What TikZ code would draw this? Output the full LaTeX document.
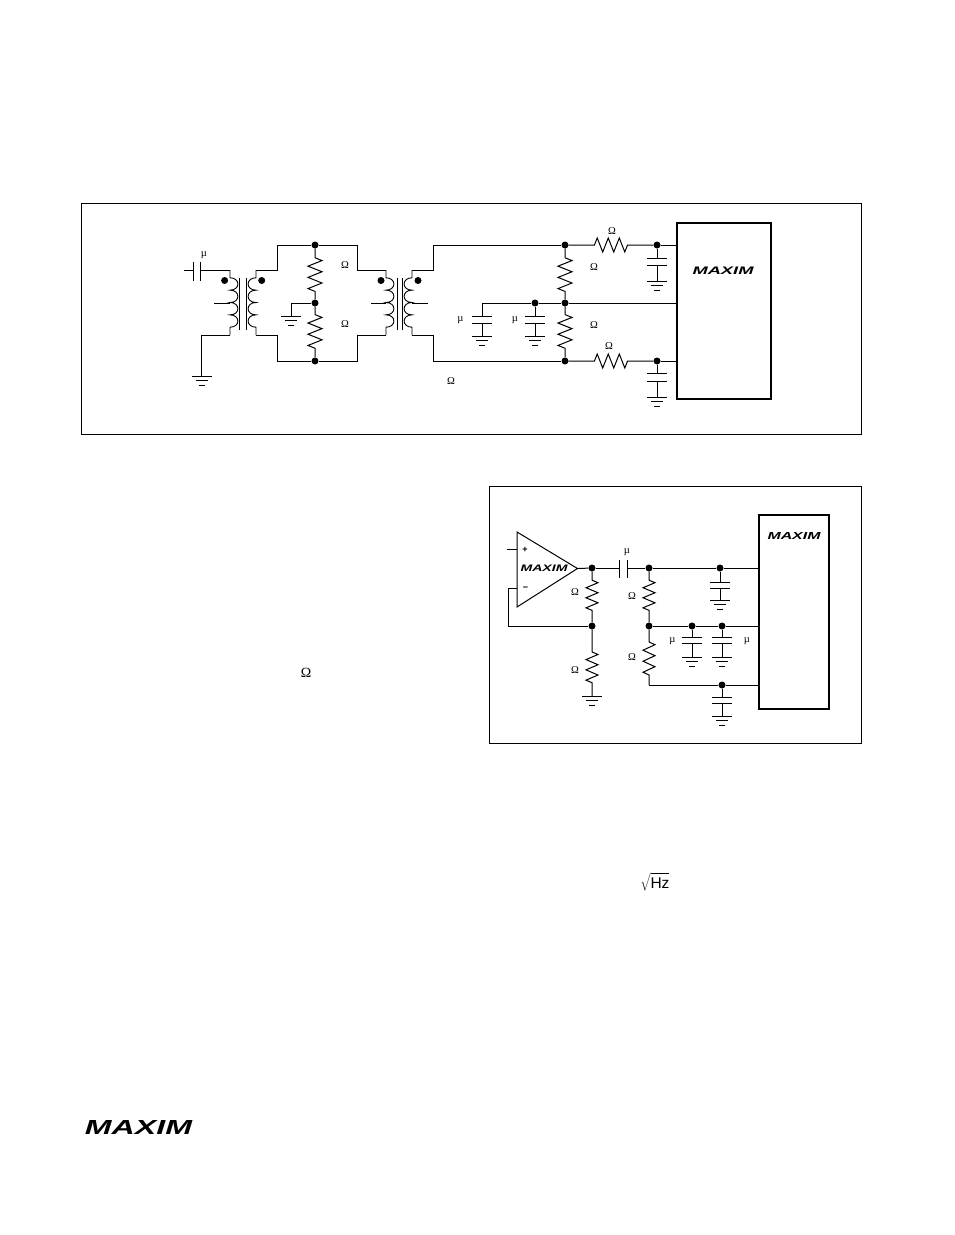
\documentclass[tikz,border=0pt]{standalone}
\usepackage{fontspec}
\usepackage{graphicx}
\setmainfont{Liberation Serif}
\newfontfamily\sansf{Liberation Sans}
\newfontfamily\logof[BoldFont={Liberation Sans Bold Italic}]{Liberation Sans}
\usetikzlibrary{calc}
\tikzset{
  x=1pt,y=-1pt,
  wire/.style={line width=1pt,black,line join=miter},
  frame/.style={line width=0.8pt,black},
  chip/.style={line width=2pt,black},
  jdot/.style={circle,fill=black,inner sep=0pt,minimum size=7pt},
  lbl/.style={inner sep=0pt,font=\fontsize{10.5}{11}\selectfont},
  logotxt/.style={inner sep=0pt},
  term/.style={inner sep=0pt,font=\sansf\bfseries\fontsize{9}{9}\selectfont}
}
\newcommand\LogoBox[2]{\resizebox{#1pt}{#2pt}{\logof\bfseries MAXIM}}
% resistor between two named points: fractions f0,f1; offset amp dx,dy
\newcommand\ResZ[6]{%
  \def\aa{#3}\def\bb{#4}%
  \draw[wire] (#1) -- ($(#1)!\aa!(#2)$)
   -- ($(#1)!\aa+(\bb-\aa)*1/12!(#2)+(#5,#6)$)
   -- ($(#1)!\aa+(\bb-\aa)*3/12!(#2)+(-#5,-#6)$)
   -- ($(#1)!\aa+(\bb-\aa)*5/12!(#2)+(#5,#6)$)
   -- ($(#1)!\aa+(\bb-\aa)*7/12!(#2)+(-#5,-#6)$)
   -- ($(#1)!\aa+(\bb-\aa)*9/12!(#2)+(#5,#6)$)
   -- ($(#1)!\aa+(\bb-\aa)*11/12!(#2)+(-#5,-#6)$)
   -- ($(#1)!\bb!(#2)$) -- (#2);}
% ground symbol at a named coordinate
\newcommand\GndS[1]{%
  \draw[wire] ($(#1)+(-10,0)$) -- ($(#1)+(10,0)$);
  \draw[wire] ($(#1)+(-6,4.5)$) -- ($(#1)+(6,4.5)$);
  \draw[wire] ($(#1)+(-3,9)$) -- ($(#1)+(3,9)$);}
% capacitor + ground below named point: plate1, plate2, ground offsets
\newcommand\CapG[4]{%
  \coordinate (#1pa) at ($(#1)+(0,#2)$);
  \coordinate (#1pb) at ($(#1)+(0,#3)$);
  \coordinate (#1g) at ($(#1)+(0,#4)$);
  \draw[wire] (#1) -- (#1pa);
  \draw[wire] ($(#1pa)+(-10,0)$) -- ($(#1pa)+(10,0)$);
  \draw[wire] ($(#1pb)+(-10,0)$) -- ($(#1pb)+(10,0)$);
  \draw[wire] (#1pb) -- (#1g);
  \GndS{#1g}}
% coil: named top, named bottom, bulge
\newcommand\CoilS[3]{%
  \draw[wire,line width=.9pt] (#1) -- ($(#1)!.12!(#2)$)
  .. controls ($(#1)!.12!(#2)+(#3,0)$) and ($(#1)!.31!(#2)+(#3,0)$) .. ($(#1)!.31!(#2)$)
  .. controls ($(#1)!.31!(#2)+(#3,0)$) and ($(#1)!.50!(#2)+(#3,0)$) .. ($(#1)!.50!(#2)$)
  .. controls ($(#1)!.50!(#2)+(#3,0)$) and ($(#1)!.69!(#2)+(#3,0)$) .. ($(#1)!.69!(#2)$)
  .. controls ($(#1)!.69!(#2)+(#3,0)$) and ($(#1)!.88!(#2)+(#3,0)$) .. ($(#1)!.88!(#2)$)
  -- (#2);}
\begin{document}
\begin{tikzpicture}
\useasboundingbox (0,0) rectangle (954,1235);
\fill[white] (0,0) rectangle (954,1235);
% frames
\draw[frame] (81,203) rectangle (861,434);
\draw[frame] (489,486) rectangle (861,743);
% ---------- first diagram ----------
\node[draw,chip,minimum width=94pt,minimum height=176pt,inner sep=0pt] (ic1) at (724,311) {};
\node[logotxt] (logo1) at (723,270.5) {\LogoBox{61}{7.5}};
\coordinate (c1l) at (184,270);
\coordinate (c1a) at (193.5,270);
\coordinate (c1b) at (200,270);
\coordinate (t1tl) at (230,270);
\coordinate (t1bl) at (230,335);
\coordinate (t1tr) at (256,270);
\coordinate (t1br) at (256,335);
\coordinate (t2tl) at (386,270);
\coordinate (t2bl) at (386,335);
\coordinate (t2tr) at (412,270);
\coordinate (t2br) at (412,335);
\coordinate (g1) at (201.5,376);
\coordinate (g2) at (291,316);
\draw[wire] (c1l) -- (c1a);
\draw[wire] (193.5,262) -- (193.5,281);
\draw[wire] (200,262) -- (200,281);
\draw[wire] (c1b) -- (t1tl);
\CoilS{t1tl}{t1bl}{10.5}
\CoilS{t1tr}{t1br}{-10.5}
\CoilS{t2tl}{t2bl}{10.5}
\CoilS{t2tr}{t2br}{-10.5}
\draw[wire] (239.5,278) -- (239.5,330);
\draw[wire] (246,278) -- (246,330);
\draw[wire] (397,278) -- (397,330);
\draw[wire] (402.5,278) -- (402.5,330);
\draw[wire] (214,303) -- (230,303);
\draw[wire] (371,303) -- (386,303);
\draw[wire] (412,303) -- (428,303);
\draw[wire] (t1bl) -| (g1);
\GndS{g1}
\node[jdot] (d1) at (224.6,280.5) {};
\node[jdot] (d2) at (261.7,280.5) {};
\node[jdot] (d3) at (381,280.5) {};
\node[jdot] (d4) at (418,280.5) {};
\node[jdot] (a1) at (315,245) {};
\node[jdot] (a2) at (315,303) {};
\node[jdot] (a3) at (315,361) {};
\draw[wire] (t1tr) -- (277,270) |- (a1);
\draw[wire] (a1) -- (357,245) |- (t2tl);
\draw[wire] (t1br) -- (277,335) |- (a3);
\draw[wire] (a3) -- (357,361) |- (t2bl);
\ResZ{a1}{a2}{.22}{.80}{7}{0}
\ResZ{a2}{a3}{.20}{.78}{7}{0}
\draw[wire] (a2) -| (g2);
\GndS{g2}
\node[jdot] (b1) at (565,245) {};
\node[jdot] (b2) at (565,303) {};
\node[jdot] (b3) at (565,361) {};
\node[jdot] (e1) at (535,303) {};
\node[jdot] (f1) at (657,245) {};
\node[jdot] (f2) at (657,361) {};
\coordinate (e0) at (482,303);
\draw[wire] (t2tr) -- (433,270) |- (b1);
\draw[wire] (t2br) -- (433,335) |- (b3);
\ResZ{b1}{b2}{.22}{.80}{7}{0}
\ResZ{b2}{b3}{.20}{.78}{7}{0}
\ResZ{b1}{f1}{.32}{.68}{0}{-7}
\ResZ{b3}{f2}{.32}{.68}{0}{-7}
\draw[wire] (f1) -- (f1 -| ic1.west);
\draw[wire] (f2) -- (f2 -| ic1.west);
\draw[wire] (e0) -- (e1);
\draw[wire] (e1) -- (b2);
\draw[wire] (b2) -- (b2 -| ic1.west);
\CapG{f1}{13}{20}{36}
\CapG{f2}{12}{20}{36}
\CapG{e0}{13}{20}{33}
\CapG{e1}{13}{20}{33}
\node[lbl] (w1) at (345,265.5) {Ω};
\node[lbl] (w2) at (345,324) {Ω};
\node[lbl] (w3) at (451,381.5) {Ω};
\node[lbl] (w4) at (594,267) {Ω};
\node[lbl] (w5) at (594,325.5) {Ω};
\node[lbl] (w6) at (612,231.5) {Ω};
\node[lbl] (w7) at (609,346.5) {Ω};
\node[lbl] (u1) at (204,255.5) {µ};
\node[lbl] (u2) at (460.5,320.5) {µ};
\node[lbl] (u3) at (515,320.5) {µ};
% ---------- second diagram ----------
\node[draw,line width=1.6pt,minimum width=70pt,minimum height=194pt,inner sep=0pt] (ic2) at (794,612) {};
\node[logotxt] (logo2) at (794,535.5) {\LogoBox{53}{7}};
\coordinate (oa) at (517,532);
\coordinate (ob) at (517,607);
\coordinate (oc) at (577.5,568.5);
\draw[wire] (oa) -- (ob) -- (oc) -- cycle;
\node[logotxt] (logo3) at (544,568.5) {\LogoBox{47}{6.5}};
\node[term] (tp) at (525,549.5) {+};
\node[term] (tm) at (525.5,588.5) {−};
\coordinate (inp) at (507,549);
\coordinate (inm) at (517,588);
\draw[wire] (inp) -- (517,549);
\node[jdot] (h1) at (592,568) {};
\node[jdot] (h2) at (592,626) {};
\node[jdot] (h3) at (649,568) {};
\node[jdot] (h4) at (649,626) {};
\node[jdot] (h5) at (720,568) {};
\node[jdot] (h6) at (692,626) {};
\node[jdot] (h7) at (722,626) {};
\node[jdot] (h8) at (722,685) {};
\coordinate (gr2) at (592,696);
\coordinate (rend) at (649,685);
\draw[wire] (oc) -- (h1);
\draw[wire] (h1) -- (619,568);
\draw[wire] (619,560) -- (619,578);
\draw[wire] (627,560) -- (627,578);
\draw[wire] (627,568) -- (h3);
\draw[wire] (h3) -- (h5);
\draw[wire] (h5) -- (h5 -| ic2.west);
\draw[wire] (h4) -- (h6);
\draw[wire] (h6) -- (h7);
\draw[wire] (h7) -- (h7 -| ic2.west);
\draw[wire] (rend) -- (h8);
\draw[wire] (h8) -- (h8 -| ic2.west);
\draw[wire] (inm) -- (508,588) |- (h2);
\ResZ{h1}{h2}{.21}{.73}{6}{0}
\ResZ{h2}{gr2}{.37}{.81}{6}{0}
\ResZ{h3}{h4}{.21}{.73}{6}{0}
\ResZ{h4}{rend}{.27}{.83}{6}{0}
\GndS{gr2}
\CapG{h5}{14}{20}{32}
\CapG{h6}{11}{17}{31}
\CapG{h7}{11}{17}{31}
\CapG{h8}{12}{18}{31}
\node[lbl] (w8) at (575,592.5) {Ω};
\node[lbl] (w9) at (575,670) {Ω};
\node[lbl] (w10) at (632,596) {Ω};
\node[lbl] (w11) at (632,657.5) {Ω};
\node[lbl] (u4) at (627,552.5) {µ};
\node[lbl] (u5) at (672.5,641.5) {µ};
\node[lbl] (u6) at (747,641.5) {µ};
% ---------- page text ----------
\node[inner sep=0pt,font=\fontsize{14}{14}\selectfont] (w12) at (306,673) {Ω};
\node[inner sep=0pt] (hz) at (655,881.5) {$\sqrt{\mbox{\sansf\fontsize{15.5}{16}\selectfont\rule{0pt}{12.5pt}Hz}}$};
\node[logotxt] (logo4) at (138.5,1127) {\LogoBox{107}{14}};
\end{tikzpicture}
\end{document}
